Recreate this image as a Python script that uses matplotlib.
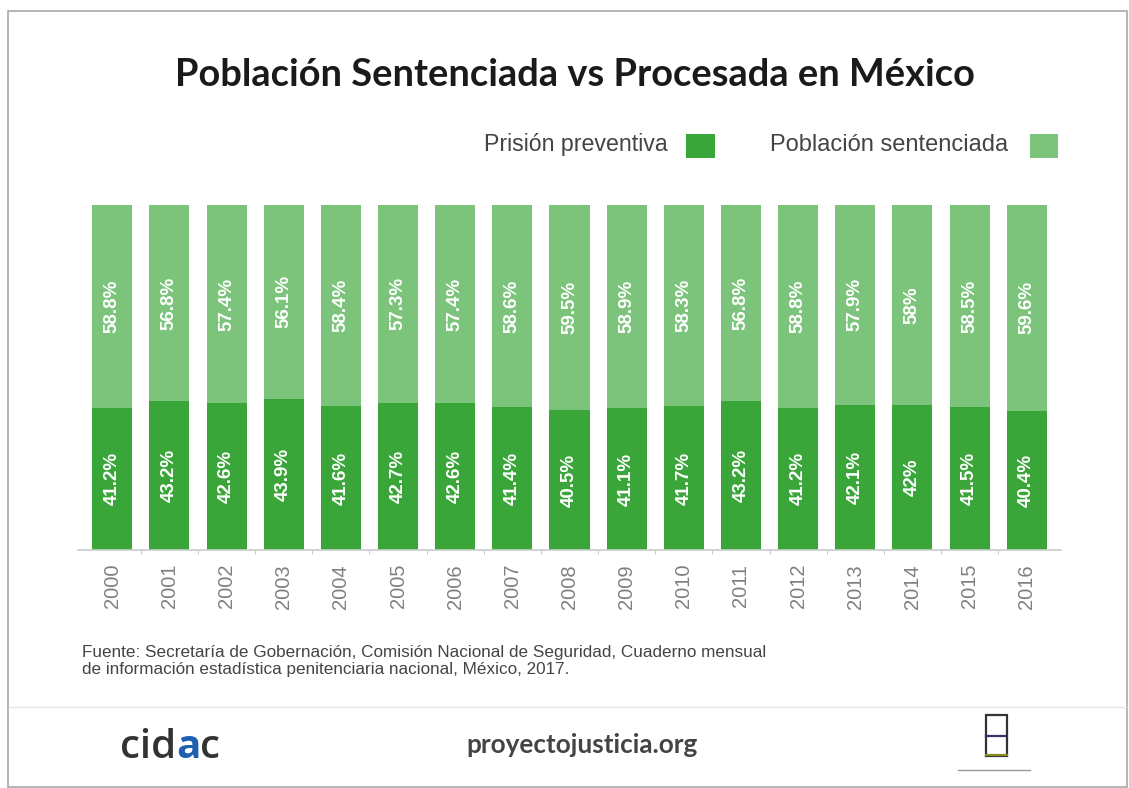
import matplotlib
matplotlib.use("Agg")
import matplotlib.pyplot as plt
from matplotlib.patches import Rectangle
import numpy as np

years = ["2000", "2001", "2002", "2003", "2004", "2005", "2006", "2007", "2008",
         "2009", "2010", "2011", "2012", "2013", "2014", "2015", "2016"]
prision_preventiva = [41.2, 43.2, 42.6, 43.9, 41.6, 42.7, 42.6, 41.4, 40.5,
                      41.1, 41.7, 43.2, 41.2, 42.1, 42.0, 41.5, 40.4]
poblacion_sentenciada = [58.8, 56.8, 57.4, 56.1, 58.4, 57.3, 57.4, 58.6, 59.5,
                         58.9, 58.3, 56.8, 58.8, 57.9, 58.0, 58.5, 59.6]
pp_labels = ["41.2%", "43.2%", "42.6%", "43.9%", "41.6%", "42.7%", "42.6%", "41.4%", "40.5%",
             "41.1%", "41.7%", "43.2%", "41.2%", "42.1%", "42%", "41.5%", "40.4%"]
ps_labels = ["58.8%", "56.8%", "57.4%", "56.1%", "58.4%", "57.3%", "57.4%", "58.6%", "59.5%",
             "58.9%", "58.3%", "56.8%", "58.8%", "57.9%", "58%", "58.5%", "59.6%"]

DARK = "#3aa63a"
LIGHT = "#7cc47c"

W, H = 1129, 788
fig = plt.figure(figsize=(W / 100, H / 100), dpi=100)
fig.patch.set_facecolor("white")

def fx(px):
    return px / W

def fy(py):
    return 1 - py / H

# outer frame
fig.add_artist(Rectangle((fx(8), fy(787)), fx(1119), fy(11) - fy(787), transform=fig.transFigure,
                         fill=False, edgecolor="#a8a8a8", linewidth=1.2))
# separator line
fig.add_artist(plt.Line2D([fx(9), fx(1126)], [fy(707), fy(707)], transform=fig.transFigure,
                          color="#e6e6e6", linewidth=1))

ax = fig.add_axes([fx(78), fy(550), fx(1061) - fx(78), fy(205) - fy(550)])
x = np.arange(len(years))
ax.bar(x, prision_preventiva, width=0.7, color=DARK)
ax.bar(x, poblacion_sentenciada, width=0.7, bottom=prision_preventiva, color=LIGHT)

for i in range(len(years)):
    ax.text(x[i], prision_preventiva[i] / 2, pp_labels[i], rotation=90, ha="center", va="center",
            color="white", fontsize=13.5, family="Liberation Sans", fontweight="bold")
    ax.text(x[i], prision_preventiva[i] + poblacion_sentenciada[i] / 2, ps_labels[i], rotation=90,
            ha="center", va="center", color="white", fontsize=13.5, family="Liberation Sans",
            fontweight="bold")

ax.set_xlim(-0.6, len(years) - 0.4)
ax.set_ylim(0, 100)
ax.set_yticks([])
ax.set_xticks(x)
ax.set_xticklabels(years, rotation=90, fontsize=14.5, color="#808080", family="Liberation Sans")
ax.tick_params(axis="x", length=0, pad=10)
ax.set_xticks(x[:-1] + 0.5, minor=True)
ax.tick_params(axis="x", which="minor", length=3, color="#bbbbbb")
for s in ["top", "right", "left"]:
    ax.spines[s].set_visible(False)
ax.spines["bottom"].set_color("#cccccc")
ax.spines["bottom"].set_linewidth(1.2)
ax.set_facecolor("none")

# title
fig.text(fx(575), fy(75), "Población Sentenciada vs Procesada en México", ha="center", va="center",
         fontsize=27.4, family="Lato", fontweight="bold", color="#1a1a1a")

# legend
fig.text(fx(668), fy(145), "Prisión preventiva", ha="right", va="center", fontsize=16.7,
         family="Liberation Sans", color="#444444")
fig.add_artist(Rectangle((fx(686), fy(158)), fx(29), fy(134) - fy(158), transform=fig.transFigure,
                         facecolor=DARK, edgecolor="none"))
fig.text(fx(1008), fy(145), "Población sentenciada", ha="right", va="center", fontsize=17,
         family="Liberation Sans", color="#444444")
fig.add_artist(Rectangle((fx(1030), fy(158)), fx(28), fy(134) - fy(158), transform=fig.transFigure,
                         facecolor=LIGHT, edgecolor="none"))

# source
fig.text(fx(82), fy(661), "Fuente: Secretaría de Gobernación, Comisión Nacional de Seguridad, Cuaderno mensual\n"
         "de información estadística penitenciaria nacional, México, 2017.",
         ha="left", va="center", fontsize=12.3, family="Liberation Sans", color="#444444",
         linespacing=1.1)

# footer
t = fig.text(fx(120), fy(748), "cid", ha="left", va="center", fontsize=29, family="Open Sans",
             fontweight="semibold", color="#333333")
fig.canvas.draw()
bb = t.get_window_extent()
t2 = fig.text(bb.x1 / W, fy(748), "a", ha="left", va="center", fontsize=29, family="Open Sans",
              fontweight="bold", color="#1f5fb0")
fig.canvas.draw()
bb2 = t2.get_window_extent()
fig.text(bb2.x1 / W, fy(748), "c", ha="left", va="center", fontsize=29, family="Open Sans",
         fontweight="semibold", color="#333333")

fig.text(fx(582), fy(745), "proyectojusticia.org", ha="center", va="center", fontsize=18.8,
         family="Lato", fontweight="bold", color="#444444")

# right logo
fig.add_artist(Rectangle((fx(986), fy(756)), fx(21), fy(715) - fy(756), transform=fig.transFigure,
                         fill=False, edgecolor="#333333", linewidth=1.6))
fig.add_artist(plt.Line2D([fx(986), fx(1007)], [fy(736), fy(736)], transform=fig.transFigure,
                          color="#333366", linewidth=1.6))
fig.add_artist(plt.Line2D([fx(986), fx(1007)], [fy(755), fy(755)], transform=fig.transFigure,
                          color="#8a8a20", linewidth=1.6))
fig.add_artist(plt.Line2D([fx(958), fx(1030)], [fy(770), fy(770)], transform=fig.transFigure,
                          color="#999999", linewidth=1))

fig.savefig("out.png", dpi=100, facecolor="white")
